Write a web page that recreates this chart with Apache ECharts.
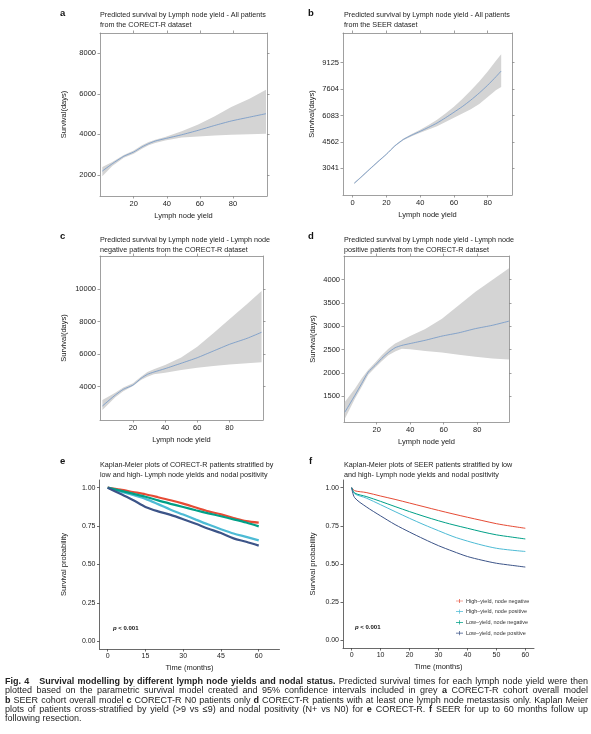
<!DOCTYPE html>
<html>
<head>
<meta charset="utf-8">
<script src="https://cdn.jsdelivr.net/npm/echarts@6/dist/echarts.min.js"></script>
<style>
  html, body { margin: 0; padding: 0; background: #fff; }
  #chart { position: absolute; left: 0; top: 0; width: 591px; height: 734px; }
  #caption { position: absolute; left: 5px; top: 677px; width: 583px;
    font-family: "Liberation Sans", Arial, sans-serif; font-size: 9px; line-height: 9.3px; color: #222; }
  #caption div { text-align: justify; text-align-last: justify; white-space: nowrap; }
  #caption div.last { text-align-last: left; }
</style>
</head>
<body>
<div id="chart"></div>
<div id="caption">
  <div><b>Fig. 4&nbsp;&nbsp; Survival modelling by different lymph node yields and nodal status.</b> Predicted survival times for each lymph node yield were then</div>
  <div>plotted based on the parametric survival model created and 95% confidence intervals included in grey <b>a</b> CORECT-R cohort overall model</div>
  <div><b>b</b> SEER cohort overall model <b>c</b> CORECT-R N0 patients only <b>d</b> CORECT-R patients with at least one lymph node metastasis only. Kaplan Meier</div>
  <div>plots of patients cross-stratified by yield (&gt;9 vs ≤9) and nodal positivity (N+ vs N0) for <b>e</b> CORECT-R. <b>f</b> SEER for up to 60 months follow up</div>
  <div class="last">following resection.</div>
</div>
<script>
// a: CORECT-R, all patients
const yieldA = [1, 7, 14, 20, 25, 29, 33, 39, 49, 59, 69, 79, 90, 100];
const meanA  = [2190, 2550, 2920, 3130, 3380, 3540, 3670, 3790, 3980, 4200, 4440, 4660, 4850, 5020];
const lowA   = [1930, 2440, 2850, 3050, 3290, 3460, 3570, 3700, 3840, 3900, 3950, 3980, 4000, 4030];
const highA  = [2390, 2640, 2980, 3210, 3460, 3620, 3740, 3870, 4150, 4490, 4890, 5350, 5760, 6200];

// b: SEER, all patients
const yieldB = [1, 5, 10, 15, 20, 25, 30, 35, 40, 45, 50, 55, 60, 65, 70, 75, 80, 85, 88];
const meanB  = [2180, 2530, 2980, 3420, 3850, 4330, 4700, 4950, 5170, 5400, 5650, 5950, 6270, 6600, 6970, 7380, 7830, 8330, 8650];
const lowB   = [2140, 2495, 2945, 3385, 3815, 4290, 4650, 4890, 5090, 5280, 5470, 5710, 5960, 6200, 6440, 6750, 7150, 7550, 7720];
const highB  = [2220, 2565, 3015, 3455, 3885, 4370, 4750, 5010, 5260, 5530, 5840, 6200, 6590, 7030, 7520, 8050, 8620, 9250, 9620];
const seerTicks = [3041, 4562, 6083, 7604, 9125];

// c: CORECT-R, node negative
const yieldC = [1, 9, 14, 20, 25, 29, 33, 40, 50, 60, 70, 80, 91, 100];
const meanC  = [2820, 3490, 3840, 4100, 4510, 4760, 4900, 5110, 5440, 5780, 6190, 6600, 6970, 7340];
const lowC   = [2570, 3350, 3720, 4040, 4410, 4620, 4760, 4860, 5030, 5170, 5270, 5370, 5440, 5500];
const highC  = [3180, 3630, 3960, 4210, 4620, 4900, 5070, 5330, 5800, 6460, 7280, 8140, 9080, 9880];

// d: CORECT-R, node positive
const yieldD = [1, 7, 11, 15, 19, 23, 27, 31, 35, 40, 49, 59, 69, 79, 89, 99];
const meanD  = [1160, 1520, 1770, 2020, 2160, 2310, 2440, 2540, 2590, 2630, 2700, 2790, 2860, 2950, 3020, 3110];
const lowD   = [1020, 1450, 1700, 1960, 2110, 2250, 2380, 2460, 2520, 2510, 2470, 2440, 2390, 2350, 2310, 2290];
const highD  = [1380, 1660, 1880, 2070, 2220, 2380, 2520, 2630, 2700, 2790, 2940, 3160, 3450, 3740, 3990, 4240];

// e: Kaplan-Meier CORECT-R
const groups = ['High–yield, node negative', 'High–yield, node positive', 'Low–yield, node negative', 'Low–yield, node positive'];
const groupColors = ['#E64B35', '#4DBBD5', '#00A087', '#3C5488'];
const monthsE = [0, 5, 10, 15, 20, 25, 30, 35, 40, 45, 50, 55, 60];
const kmE = [
  [1.0, 0.987, 0.972, 0.957, 0.938, 0.918, 0.896, 0.871, 0.846, 0.826, 0.803, 0.782, 0.772],
  [1.0, 0.975, 0.952, 0.927, 0.893, 0.857, 0.825, 0.792, 0.760, 0.730, 0.702, 0.680, 0.657],
  [1.0, 0.981, 0.961, 0.941, 0.917, 0.895, 0.874, 0.853, 0.833, 0.814, 0.794, 0.773, 0.748],
  [1.0, 0.960, 0.920, 0.875, 0.846, 0.823, 0.795, 0.765, 0.733, 0.705, 0.670, 0.648, 0.623]
];

// f: Kaplan-Meier SEER
const monthsF = [0, 1, 5, 10, 15, 20, 25, 30, 35, 40, 45, 50, 55, 60];
const kmF = [
  [1.0, 0.980, 0.968, 0.945, 0.923, 0.899, 0.875, 0.851, 0.828, 0.806, 0.785, 0.764, 0.748, 0.734],
  [1.0, 0.960, 0.932, 0.888, 0.843, 0.799, 0.757, 0.718, 0.680, 0.650, 0.624, 0.603, 0.591, 0.582],
  [1.0, 0.965, 0.942, 0.910, 0.876, 0.843, 0.812, 0.783, 0.757, 0.734, 0.711, 0.691, 0.677, 0.664],
  [1.0, 0.935, 0.875, 0.815, 0.758, 0.709, 0.663, 0.620, 0.583, 0.549, 0.525, 0.505, 0.492, 0.480]
];

const FONT = '"Liberation Sans", Arial, sans-serif';
const TXT = '#222';
const plain = v => String(v);
const grids = [], xAxes = [], yAxes = [], series = [];

function addPanel(g, o) {
  const gi = grids.length;
  grids.push(Object.assign({ containLabel: false }, g));
  const axLine = { show: true, onZero: false, lineStyle: { color: o.lineColor, width: 0.8 } };
  const tick = (vals) => ({ show: true, inside: false, length: 2.5, customValues: vals, lineStyle: { color: o.lineColor, width: 0.8 } });
  const lab = (vals, fmt) => ({ customValues: vals, formatter: fmt || plain, fontSize: o.labSize, color: TXT, fontFamily: FONT, margin: 4 });
  const nameStyle = { fontSize: 7.5, color: TXT, fontFamily: FONT };
  const xi = xAxes.length, yi = yAxes.length;
  xAxes.push({ gridIndex: gi, type: 'value', min: o.xMin, max: o.xMax, position: 'bottom',
    axisLine: axLine, axisTick: tick(o.xTicks), axisLabel: lab(o.xTicks, o.xFmt), splitLine: { show: false },
    name: o.xName, nameLocation: 'middle', nameGap: o.xGap, nameTextStyle: nameStyle });
  yAxes.push({ gridIndex: gi, type: 'value', min: o.yMin, max: o.yMax, position: 'left',
    axisLine: axLine, axisTick: tick(o.yTicks), axisLabel: lab(o.yTicks, o.yFmt), splitLine: { show: false },
    name: o.yName, nameLocation: 'middle', nameGap: o.yGap, nameTextStyle: nameStyle });
  if (o.box) {
    xAxes.push({ gridIndex: gi, type: 'value', min: o.xMin, max: o.xMax, position: 'top',
      axisLine: axLine, axisTick: tick(o.xTicks), axisLabel: { show: false }, splitLine: { show: false } });
    yAxes.push({ gridIndex: gi, type: 'value', min: o.yMin, max: o.yMax, position: 'right',
      axisLine: axLine, axisTick: tick(o.yTicks), axisLabel: { show: false }, splitLine: { show: false } });
  }
  return { xi, yi };
}

function addBand(ax, xs, mean, low, high) {
  series.push({
    type: 'custom', xAxisIndex: ax.xi, yAxisIndex: ax.yi, silent: true, z: 1,
    data: xs.map((x, i) => [x, low[i], high[i]]),
    encode: { x: 0, y: [1, 2] },
    renderItem: function (params, api) {
      if (params.dataIndex !== 0) return;
      const pts = [];
      xs.forEach((x, i) => pts.push(api.coord([x, high[i]])));
      for (let i = xs.length - 1; i >= 0; i--) pts.push(api.coord([xs[i], low[i]]));
      return { type: 'polygon', shape: { points: pts }, style: { fill: '#d4d4d4' } };
    }
  });
  series.push({
    type: 'line', xAxisIndex: ax.xi, yAxisIndex: ax.yi, symbol: 'none', smooth: 0.2, z: 3,
    data: xs.map((x, i) => [x, mean[i]]),
    lineStyle: { color: '#6f95c6', width: 0.8 }
  });
}

const yieldTicks = [20, 40, 60, 80];
const base = { box: true, lineColor: '#888', labSize: 7.5, xName: 'Lymph node yield', xGap: 16, yName: 'Survival(days)' };

const axA = addPanel({ left: 100, top: 33, width: 167, height: 163 }, Object.assign({}, base,
  { xMin: -0.4, xMax: 100.6, xTicks: yieldTicks, yMin: 960, yMax: 9000, yTicks: [2000, 4000, 6000, 8000], yGap: 32 }));
addBand(axA, yieldA, meanA, lowA, highA);

const axB = addPanel({ left: 343, top: 33, width: 169, height: 162 }, Object.assign({}, base,
  { xMin: -5.7, xMax: 94.4, xTicks: [0, 20, 40, 60, 80], yMin: 1500, yMax: 10840, yTicks: seerTicks, yGap: 27 }));
addBand(axB, yieldB, meanB, lowB, highB);

const axC = addPanel({ left: 100, top: 256, width: 163, height: 164 }, Object.assign({}, base,
  { xMin: -0.5, xMax: 100.9, xTicks: yieldTicks, yMin: 1960, yMax: 12020, yTicks: [4000, 6000, 8000, 10000], yGap: 32 }));
addBand(axC, yieldC, meanC, lowC, highC);

const axD = addPanel({ left: 344, top: 256, width: 165, height: 166 }, Object.assign({}, base,
  { xName: 'Lymph node yeld', xMin: 0.5, xMax: 99, xTicks: yieldTicks, yMin: 950, yMax: 4505,
    yTicks: [1500, 2000, 2500, 3000, 3500, 4000], yGap: 27 }));
addBand(axD, yieldD, meanD, lowD, highD);

const kmBase = { box: false, lineColor: '#444', labSize: 7, xName: 'Time (months)', xGap: 15,
  yName: 'Survival probability', yMin: -0.05, yMax: 1.05, yTicks: [0, 0.25, 0.5, 0.75, 1], yFmt: v => v.toFixed(2) };

const axE = addPanel({ left: 99.5, top: 480, width: 180, height: 169 }, Object.assign({}, kmBase,
  { xMin: -3.25, xMax: 68.25, xTicks: [0, 15, 30, 45, 60], yGap: 32 }));
groups.forEach((name, k) => series.push({
  type: 'line', name: name, xAxisIndex: axE.xi, yAxisIndex: axE.yi, symbol: 'none', smooth: 0.3,
  data: monthsE.map((m, i) => [m, kmE[k][i]]),
  lineStyle: { color: groupColors[k], width: 2.2 }, itemStyle: { color: groupColors[k] }
}));

const axF = addPanel({ left: 343, top: 480, width: 191, height: 168 }, Object.assign({}, kmBase,
  { xMin: -3, xMax: 63, xTicks: [0, 10, 20, 30, 40, 50, 60], yGap: 26 }));
groups.forEach((name, k) => series.push({
  type: 'line', name: name, xAxisIndex: axF.xi, yAxisIndex: axF.yi, symbol: 'none', smooth: 0.3,
  data: monthsF.map((m, i) => [m, kmF[k][i]]),
  lineStyle: { color: groupColors[k], width: 1 }, itemStyle: { color: groupColors[k] }
}));

const titleStyle = { fontSize: 7.2, fontWeight: 'normal', color: TXT, fontFamily: FONT, lineHeight: 9.8 };
const letterStyle = { fontSize: 9.5, fontWeight: 'bold', color: '#111', fontFamily: FONT };
const pStyle = { fontSize: 6, fontWeight: 'bold', color: '#111', fontFamily: FONT,
  rich: { i: { fontStyle: 'italic', fontWeight: 'bold', fontSize: 6, fontFamily: FONT } } };
function t(text, left, top, style) { return { text, left, top, padding: 0, textStyle: style }; }

const chart = echarts.init(document.getElementById('chart'), null, { renderer: 'canvas' });
chart.setOption({
  backgroundColor: '#fff',
  animation: false,
  title: [
    t('a', 60, 8, letterStyle), t('b', 308, 8, letterStyle), t('c', 60, 231, letterStyle),
    t('d', 308, 231, letterStyle), t('e', 60, 456, letterStyle), t('f', 309, 456, letterStyle),
    t('Predicted survival by Lymph node yield - All patients\nfrom the CORECT-R dataset', 100, 10, titleStyle),
    t('Predicted survival by Lymph node yield - All patients\nfrom the SEER dataset', 344, 10, titleStyle),
    t('Predicted survival by Lymph node yield - Lymph node\nnegative patients from the CORECT-R dataset', 100, 235, titleStyle),
    t('Predicted survival by Lymph node yield - Lymph node\npositive patients from the CORECT-R dataset', 344, 235, titleStyle),
    t('Kaplan-Meier plots of CORECT-R patients stratified by\nlow and high- Lymph node yields and nodal positivity', 100, 460, titleStyle),
    t('Kaplan-Meier plots of SEER patients stratified by low\nand high- Lymph node yields and nodal positivity', 344, 460, titleStyle),
    t('{i|p} < 0.001', 113, 625, pStyle),
    t('{i|p} < 0.001', 355, 624, pStyle)
  ],
  legend: {
    data: groups, orient: 'vertical', left: 456, top: 598, padding: 0,
    itemWidth: 7, itemHeight: 5, itemGap: 4.7,
    icon: 'path://M0,4.5H10V5.5H0Z M4.5,2H5.5V8H4.5Z',
    textStyle: { fontSize: 5.5, color: '#333', fontFamily: FONT, padding: [0, 0, 0, -2] },
    selectedMode: false
  },
  grid: grids,
  xAxis: xAxes,
  yAxis: yAxes,
  series: series
});
</script>
</body>
</html>
